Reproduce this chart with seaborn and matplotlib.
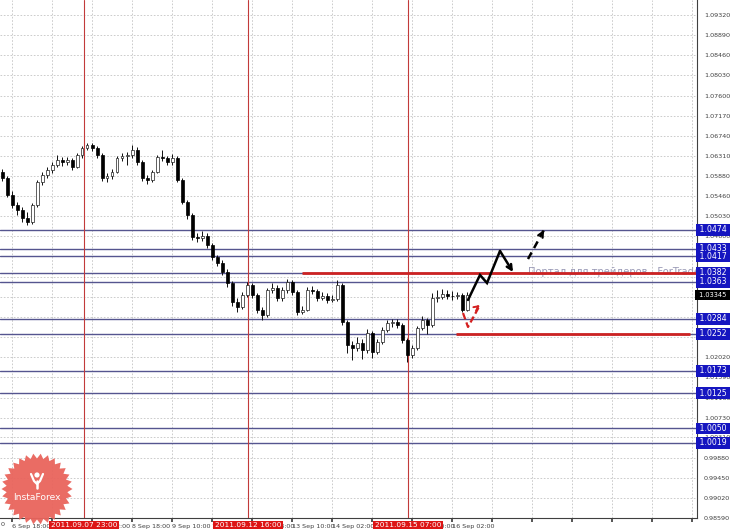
import numpy as np
import pandas as pd
import matplotlib
matplotlib.use("Agg")
import matplotlib.pyplot as plt
import matplotlib.transforms as mtransforms
from matplotlib.patches import Polygon, Circle
import seaborn as sns

# ---------------- data (EURCHF-like H1 candles) ----------------
opens = [1.0598, 1.0584, 1.0548, 1.0527, 1.0516, 1.0499, 1.0490, 1.0527, 1.0576, 1.0591,
         1.0601, 1.0612, 1.0623, 1.0618, 1.0623, 1.0608, 1.0633, 1.0648, 1.0655, 1.0648,
         1.0633, 1.0584, 1.0589, 1.0597, 1.0627, 1.0631, 1.0633, 1.0644, 1.0618, 1.0584,
         1.0580, 1.0597, 1.0629, 1.0626, 1.0618, 1.0627, 1.0580, 1.0533, 1.0505, 1.0458,
         1.0456, 1.0461, 1.0441, 1.0416, 1.0403, 1.0384, 1.0360, 1.0320, 1.0309, 1.0335,
         1.0356, 1.0335, 1.0303, 1.0292, 1.0345, 1.0350, 1.0328, 1.0345, 1.0362, 1.0341,
         1.0299, 1.0303, 1.0345, 1.0343, 1.0328, 1.0333, 1.0324, 1.0326, 1.0356, 1.0277,
         1.0228, 1.0222, 1.0232, 1.0217, 1.0254, 1.0213, 1.0235, 1.0260, 1.0275, 1.0277,
         1.0271, 1.0239, 1.0207, 1.0222, 1.0264, 1.0281, 1.0271, 1.0328, 1.0330, 1.0337,
         1.0333, 1.0332, 1.0335, 1.0303]
closes = [1.0584, 1.0548, 1.0527, 1.0516, 1.0499, 1.0490, 1.0527, 1.0576, 1.0591, 1.0601,
          1.0612, 1.0623, 1.0618, 1.0623, 1.0608, 1.0633, 1.0648, 1.0655, 1.0648, 1.0633,
          1.0584, 1.0589, 1.0597, 1.0627, 1.0631, 1.0633, 1.0644, 1.0618, 1.0584, 1.0580,
          1.0597, 1.0629, 1.0626, 1.0618, 1.0627, 1.0580, 1.0533, 1.0505, 1.0458, 1.0456,
          1.0461, 1.0441, 1.0416, 1.0403, 1.0384, 1.0360, 1.0320, 1.0309, 1.0335, 1.0356,
          1.0335, 1.0303, 1.0292, 1.0345, 1.0350, 1.0328, 1.0345, 1.0362, 1.0341, 1.0299,
          1.0303, 1.0345, 1.0343, 1.0328, 1.0333, 1.0324, 1.0326, 1.0356, 1.0277, 1.0228,
          1.0222, 1.0232, 1.0217, 1.0254, 1.0213, 1.0235, 1.0260, 1.0275, 1.0277, 1.0271,
          1.0239, 1.0207, 1.0222, 1.0264, 1.0281, 1.0271, 1.0328, 1.0330, 1.0337, 1.0333,
          1.0332, 1.0335, 1.0303, 1.03345]
highs = [1.0603, 1.0588, 1.0556, 1.0533, 1.0522, 1.0512, 1.0531, 1.0580, 1.0598, 1.0607,
         1.0618, 1.0634, 1.0630, 1.0629, 1.0627, 1.0638, 1.0652, 1.0660, 1.0658, 1.0652,
         1.0637, 1.0596, 1.0603, 1.0631, 1.0638, 1.0640, 1.0654, 1.0650, 1.0622, 1.0590,
         1.0602, 1.0633, 1.0643, 1.0632, 1.0636, 1.0631, 1.0584, 1.0538, 1.0509, 1.0466,
         1.0472, 1.0466, 1.0446, 1.0421, 1.0409, 1.0390, 1.0365, 1.0328, 1.0341, 1.0362,
         1.0360, 1.0340, 1.0309, 1.0350, 1.0360, 1.0356, 1.0352, 1.0368, 1.0366, 1.0345,
         1.0312, 1.0352, 1.0354, 1.0348, 1.0342, 1.0338, 1.0334, 1.0367, 1.0360, 1.0281,
         1.0236, 1.0246, 1.0240, 1.0262, 1.0258, 1.0241, 1.0266, 1.0282, 1.0284, 1.0283,
         1.0276, 1.0244, 1.0228, 1.0268, 1.0290, 1.0286, 1.0340, 1.0346, 1.0348, 1.0345,
         1.0344, 1.0342, 1.0339, 1.0342]
lows = [1.0578, 1.0543, 1.0521, 1.0505, 1.0490, 1.0484, 1.0486, 1.0522, 1.0570, 1.0585,
        1.0596, 1.0607, 1.0610, 1.0612, 1.0602, 1.0605, 1.0628, 1.0643, 1.0641, 1.0627,
        1.0578, 1.0576, 1.0583, 1.0594, 1.0620, 1.0612, 1.0628, 1.0613, 1.0578, 1.0572,
        1.0576, 1.0594, 1.0620, 1.0612, 1.0613, 1.0575, 1.0528, 1.0496, 1.0452, 1.0448,
        1.0450, 1.0436, 1.0410, 1.0397, 1.0378, 1.0352, 1.0312, 1.0298, 1.0304, 1.0330,
        1.0328, 1.0297, 1.0281, 1.0288, 1.0338, 1.0322, 1.0322, 1.0340, 1.0335, 1.0292,
        1.0294, 1.0300, 1.0336, 1.0322, 1.0324, 1.0318, 1.0319, 1.0322, 1.0270, 1.0212,
        1.0196, 1.0215, 1.0198, 1.0212, 1.0200, 1.0208, 1.0230, 1.0255, 1.0266, 1.0265,
        1.0232, 1.0192, 1.0200, 1.0218, 1.0260, 1.0252, 1.0266, 1.0320, 1.0326, 1.0327,
        1.0325, 1.0326, 1.0298, 1.0300]

x_tick_pos = [2, 10, 18, 26, 34, 42, 50, 58, 66, 74, 82, 90, 98, 106, 114, 122, 130, 138]
x_tick_labels = ["6 Sep 18:00", "7 Sep 10:00", "8 Sep 02:00", "8 Sep 18:00", "9 Sep 10:00",
                 "12 Sep 02:00", "12 Sep 18:00", "13 Sep 10:00", "14 Sep 02:00",
                 "14 Sep 18:00", "15 Sep 10:00", "16 Sep 02:00", "", "", "", "", "", ""]
y_ticks = [1.09320, 1.08890, 1.08460, 1.08030, 1.07600, 1.07170, 1.06740, 1.06310, 1.05880,
           1.05460, 1.05030, 1.04600, 1.04170, 1.03740, 1.03310, 1.02880, 1.02450, 1.02020,
           1.01590, 1.01160, 1.00730, 1.00310, 0.99880, 0.99450, 0.99020, 0.98590]
# tick labels fully covered by price boxes in the reference are left blank
y_tick_hidden = [1.04170, 1.03740, 1.03310, 1.02880, 1.02450]

levels = [1.0474, 1.0433, 1.0417, 1.0382, 1.0363, 1.0284, 1.0252, 1.0173, 1.0125, 1.0050, 1.0019]
level_labels = ["1.0474", "1.0433", "1.0417", "1.0382", "1.0363", "1.0284", "1.0252",
                "1.0173", "1.0125", "1.0050", "1.0019"]
current_price = 1.03345
current_label = "1.03345"

red_levels = [1.0382, 1.0252]
red_level_start = [60.0, 90.8]
red_level_end = [139.0, 137.6]

vline_pos = [16.4, 49.2, 81.2]
vline_labels = ["2011.09.07 23:00", "2011.09.12 16:00", "2011.09.15 07:00"]

forecast_solid_x = [93.2, 95.6, 97.0, 99.6, 102.2]
forecast_solid_y = [1.03241, 1.03774, 1.03603, 1.04286, 1.03838]
forecast_dash_x = [105.2, 108.4]
forecast_dash_y = [1.04115, 1.04734]
alt_red_x = [92.2, 93.2, 95.6]
alt_red_y = [1.02963, 1.02665, 1.03134]

watermark = "Портал для трейдеров - ForTrader.ru"

# ---------------- figure ----------------
sns.set_theme(style="white")
plt.rcParams["font.family"] = ["DejaVu Sans"]

W, H = 730, 531
fig = plt.figure(figsize=(W / 100, H / 100), dpi=100)
fig.patch.set_facecolor("white")
ax = fig.add_axes([0, 13 / H, 697 / W, 518 / H])
ax.set_facecolor("white")

df = pd.DataFrame({"open": opens, "high": highs, "low": lows, "close": closes})
df["idx"] = np.arange(len(df))
df["bull"] = df["close"] >= df["open"]

ax.set_xlim(-0.4, 139.0)
ax.set_ylim(0.98590, 1.09640)

# grid
ax.set_xticks(x_tick_pos)
ax.set_xticklabels(x_tick_labels, ha="left")
ax.set_yticks(y_ticks)
ax.set_yticklabels(["" if any(abs(v - h) < 1e-7 for h in y_tick_hidden) else f"{v:.5f}"
                    for v in y_ticks])
ax.yaxis.tick_right()
ax.grid(True, color="#c4c4c4", linestyle=(0, (2, 2)), linewidth=0.6)
ax.set_axisbelow(True)
ax.tick_params(axis="x", labelsize=4.6, length=3, pad=1.5, colors="#404040", direction="out",
               bottom=True)
ax.tick_params(axis="y", labelsize=4.6, length=3, pad=2, colors="#404040", direction="out",
               right=True, left=False)
sns.despine(ax=ax, left=True, top=True, right=False, bottom=False)
for s in ("right", "bottom"):
    ax.spines[s].set_color("#404040")
    ax.spines[s].set_linewidth(0.8)

# level lines
for lv in levels:
    ax.axhline(lv, color="#55558f", lw=1.0, zorder=1.5)
for x in vline_pos:
    ax.axvline(x, color="#c23a3a", lw=0.8, zorder=1.6)

# candles
ax.vlines(df["idx"], df["low"], df["high"], color="#101010", lw=0.7, zorder=3)
body_bottom = np.minimum(df["open"], df["close"])
body_h = np.maximum(np.abs(df["close"] - df["open"]), 0.00005)
bull = df["bull"].values
ax.bar(df["idx"][bull], body_h[bull], bottom=body_bottom[bull], width=0.6,
       color="white", edgecolor="#202020", linewidth=0.5, zorder=4)
ax.bar(df["idx"][~bull], body_h[~bull], bottom=body_bottom[~bull], width=0.6,
       color="#000000", edgecolor="#000000", linewidth=0.5, zorder=4)

# red support / resistance lines
for lv, a, b in zip(red_levels, red_level_start, red_level_end):
    ax.plot([a, b], [lv, lv], color="#cc2222", lw=2.0, zorder=5, solid_capstyle="butt")

# watermark
ax.text(105.2, 1.0384, watermark, color="#9a9ab6", fontsize=7.2, va="center", ha="left",
        clip_on=True, zorder=2)

# forecast arrows
ax.plot(forecast_solid_x[:-1], forecast_solid_y[:-1], color="black", lw=1.8, zorder=6,
        solid_joinstyle="miter")
ax.annotate("", xy=(forecast_solid_x[-1], forecast_solid_y[-1]),
            xytext=(forecast_solid_x[-2], forecast_solid_y[-2]),
            arrowprops=dict(arrowstyle="->", lw=1.8, color="black", mutation_scale=9,
                            shrinkA=0, shrinkB=0), zorder=6)
ax.plot(forecast_dash_x, forecast_dash_y, color="black", lw=1.8, ls=(0, (3, 2)), zorder=6)
ax.annotate("", xy=(forecast_dash_x[-1], forecast_dash_y[-1]),
            xytext=(forecast_dash_x[-1] - 0.4, forecast_dash_y[-1] - 0.00078),
            arrowprops=dict(arrowstyle="->", lw=1.6, color="black", mutation_scale=9,
                            shrinkA=0, shrinkB=0), zorder=6)
ax.plot(alt_red_x, alt_red_y, color="#d42020", lw=1.6, ls=(0, (3, 1.5)), zorder=6)
ax.annotate("", xy=(alt_red_x[-1], alt_red_y[-1]),
            xytext=(alt_red_x[-1] - 0.5, alt_red_y[-1] - 0.0004),
            arrowprops=dict(arrowstyle="->", lw=1.4, color="#d42020", mutation_scale=8,
                            shrinkA=0, shrinkB=0), zorder=6)

# price labels on right axis
trans = mtransforms.blended_transform_factory(ax.transAxes, ax.transData)
for lv, lab in zip(levels, level_labels):
    ax.text(1.0, lv, " " + lab + " ", transform=trans, ha="left", va="center", fontsize=5.6,
            color="white", clip_on=False, zorder=10,
            bbox=dict(boxstyle="square,pad=0.18", fc="#1515c0", ec="none"))
ax.text(1.0, current_price, " " + current_label + " ", transform=trans, ha="left", va="center",
        fontsize=4.8, color="white", clip_on=False, zorder=10,
        bbox=dict(boxstyle="square,pad=0.25", fc="#000000", ec="none"))

# date labels on time axis
transx = mtransforms.blended_transform_factory(ax.transData, fig.transFigure)
for x, lab in zip(vline_pos, vline_labels):
    ax.text(x, 6 / H, lab, transform=transx, ha="center", va="center", fontsize=5.3,
            color="white", clip_on=False, zorder=10,
            bbox=dict(boxstyle="square,pad=0.2", fc="#dd1515", ec="none"))

# overlay in pixel coordinates for logo
ov = fig.add_axes([0, 0, 1, 1], facecolor="none")
ov.set_xlim(0, W)
ov.set_ylim(H, 0)
ov.axis("off")
ov.text(1, 524, "0", fontsize=4.6, color="#404040", ha="left", va="center")
cx, cy = 37, 489
n = 30
ang = np.linspace(0, 2 * np.pi, 2 * n, endpoint=False)
rad = np.where(np.arange(2 * n) % 2 == 0, 35.5, 30.5)
star = np.column_stack([cx + rad * np.cos(ang), cy + rad * np.sin(ang)])
ov.add_patch(Polygon(star, closed=True, fc="#e9645c", ec="none", alpha=0.95, zorder=5))
ov.add_patch(Circle((cx, cy - 14), 2.6, fc="white", ec="none", zorder=6))
ov.plot([cx - 6, cx - 3, cx, cx + 3, cx + 6], [cy - 15, cy - 8, cy - 5, cy - 8, cy - 15],
        color="white", lw=1.6, zorder=6)
ov.plot([cx, cx], [cy - 8, cy - 1], color="white", lw=1.8, zorder=6)
ov.text(cx, cy + 8, "InstaForex", color="white", fontsize=6.6, ha="center", va="center",
        zorder=7)

fig.savefig("out.png", dpi=100, facecolor="white")
